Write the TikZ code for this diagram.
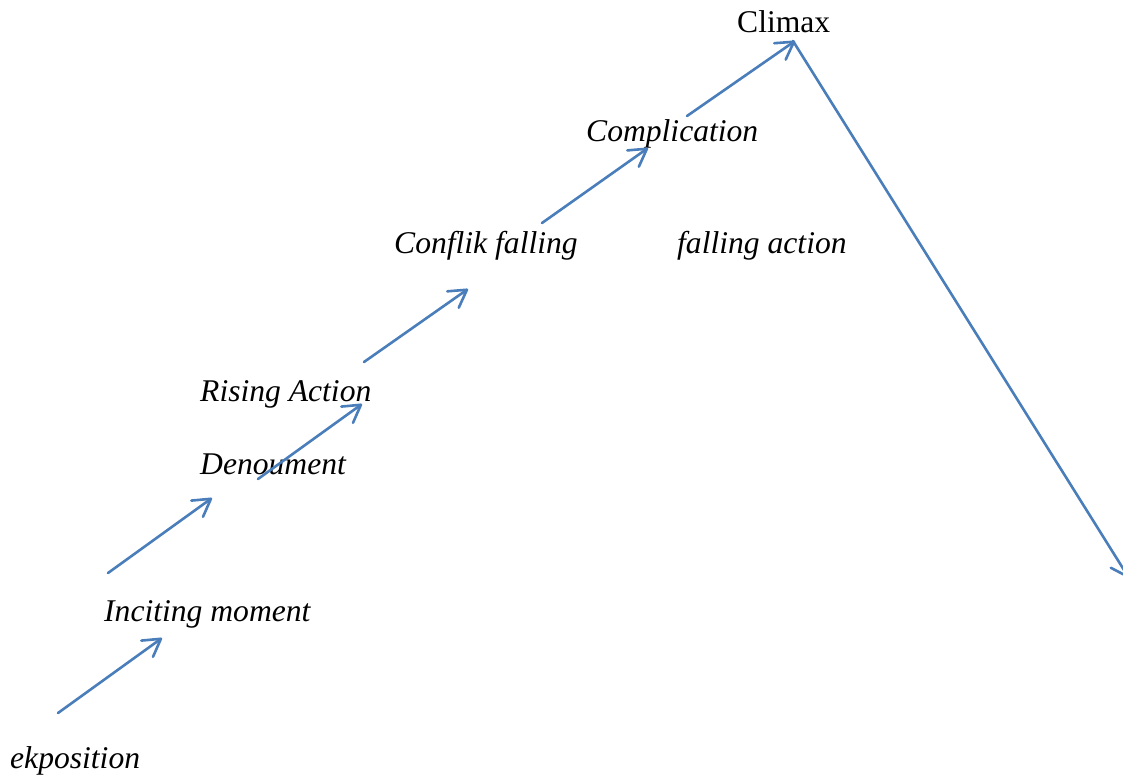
\documentclass[tikz,border=0pt]{standalone}
\usepackage{fontspec}
\setmainfont{Liberation Serif}
\usetikzlibrary{arrows.meta}
\definecolor{arrowblue}{RGB}{74,126,187}
\tikzset{
  lbl/.style={anchor=base west, inner sep=0pt, font=\fontsize{31.6}{36}\selectfont\itshape},
  lblup/.style={anchor=base west, inner sep=0pt, font=\fontsize{31.6}{36}\selectfont},
  arr/.style={draw=arrowblue, line width=2.6pt, line cap=round, -{Straight Barb[length=17pt,width=20pt,line width=2.6pt,round]}}
}
\begin{document}
\begin{tikzpicture}[x=1pt,y=-1pt]
\useasboundingbox (0,0) rectangle (1123,775);
\clip (0,0) rectangle (1123,775);
\node[lblup] (climax) at (737,33) {Climax};
\node[lbl] (compl) at (586,142) {Complication};
\node[lbl] (conf) at (394,254) {Conflik falling};
\node[lbl] (fall) at (677,254) {falling action};
\node[lbl] (rise) at (200,401) {Rising Action};
\node[lbl] (deno) at (200,474) {Denoument};
\node[lbl] (inci) at (104,621) {Inciting moment};
\node[lbl] (ekpo) at (10,768) {ekposition};
\coordinate (a1) at (58,713); \coordinate (b1) at (162,638);
\coordinate (a2) at (108,573); \coordinate (b2) at (212,498);
\coordinate (a3) at (258,479); \coordinate (b3) at (362,404);
\coordinate (a4) at (364,362); \coordinate (b4) at (468,289);
\coordinate (a5) at (542,223); \coordinate (b5) at (648,148);
\coordinate (a6) at (687,116); \coordinate (b6) at (795,41);
\coordinate (a7) at (793,41); \coordinate (b7) at (1129,578);
\draw[arr] (a1) -- (b1);
\draw[arr] (a2) -- (b2);
\draw[arr] (a3) -- (b3);
\draw[arr] (a4) -- (b4);
\draw[arr] (a5) -- (b5);
\draw[arr] (a6) -- (b6);
\draw[arr] (a7) -- (b7);
\end{tikzpicture}
\end{document}
